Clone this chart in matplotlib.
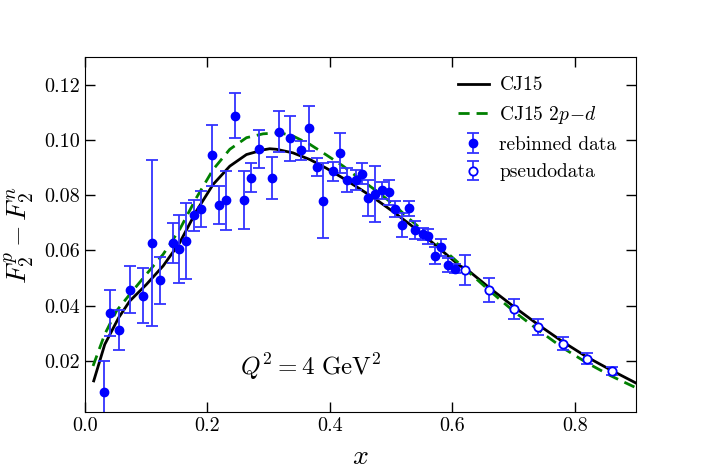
import numpy as np
import matplotlib
matplotlib.use('Agg')
import matplotlib.pyplot as plt

plt.rcParams['font.family'] = 'serif'
plt.rcParams['font.serif'] = ['cmr10']
plt.rcParams['mathtext.fontset'] = 'cm'
plt.rcParams['axes.formatter.use_mathtext'] = True

# rebinned data
x_data = [0.031, 0.041, 0.0555, 0.0746, 0.0953, 0.1094, 0.1225, 0.1443, 0.154, 0.165,
          0.178, 0.190, 0.2075, 0.219, 0.2314, 0.2445, 0.2597, 0.2717, 0.2848, 0.305,
          0.3174, 0.3349, 0.3534, 0.3654, 0.3785, 0.3893, 0.4046, 0.417, 0.4274, 0.442,
          0.4525, 0.4628, 0.4732, 0.4856, 0.496, 0.5069, 0.5178, 0.5292, 0.5395, 0.5516,
          0.5608, 0.5712, 0.5815, 0.5925, 0.6044]
y_data = [0.0089, 0.0374, 0.0312, 0.0458, 0.0436, 0.0628, 0.0492, 0.0627, 0.0605, 0.0634,
          0.0727, 0.0750, 0.0944, 0.0763, 0.0782, 0.1087, 0.0782, 0.0863, 0.0967, 0.0862,
          0.1030, 0.1006, 0.0962, 0.1042, 0.0902, 0.0780, 0.0886, 0.0953, 0.0856, 0.0854,
          0.0878, 0.0790, 0.0803, 0.0817, 0.0811, 0.0751, 0.0692, 0.0752, 0.0675, 0.0660,
          0.0651, 0.0581, 0.0611, 0.0548, 0.0534]
e_data = [0.0110, 0.0083, 0.0071, 0.0086, 0.0099, 0.0300, 0.0086, 0.0072, 0.0124, 0.0138,
          0.0056, 0.0066, 0.0109, 0.0069, 0.0107, 0.0081, 0.0105, 0.0052, 0.0068, 0.0076,
          0.0075, 0.0081, 0.0033, 0.0082, 0.0033, 0.0136, 0.0033, 0.0073, 0.0043, 0.0036,
          0.0039, 0.0066, 0.0101, 0.0030, 0.0045, 0.0029, 0.0045, 0.0028, 0.0033, 0.0023,
          0.0027, 0.0031, 0.0030, 0.0026, 0.0017]

# pseudodata
x_pseudo = [0.62, 0.66, 0.70, 0.74, 0.78, 0.82, 0.86]
y_pseudo = [0.0529, 0.0457, 0.0388, 0.0323, 0.0263, 0.0208, 0.0163]
e_pseudo = [0.0055, 0.0045, 0.0037, 0.0030, 0.0024, 0.0020, 0.0014]

# CJ15 curve
x_cj = [0.0147, 0.0327, 0.0555, 0.0735, 0.1007, 0.128, 0.155, 0.1824, 0.2096, 0.2368,
        0.264, 0.2913, 0.302, 0.313, 0.340, 0.3675, 0.3948, 0.422, 0.449, 0.4765,
        0.5036, 0.531, 0.5582, 0.5853, 0.6126, 0.6235, 0.6615, 0.7013, 0.741, 0.780,
        0.820, 0.859, 0.900]
y_cj = [0.0128, 0.0260, 0.0357, 0.0417, 0.0477, 0.0544, 0.0628, 0.0743, 0.0839, 0.0905,
        0.0947, 0.0964, 0.0968, 0.0966, 0.0953, 0.0929, 0.0897, 0.0861, 0.0823, 0.0783,
        0.0740, 0.0694, 0.0646, 0.0595, 0.0544, 0.0532, 0.0463, 0.0395, 0.0330, 0.0270,
        0.0214, 0.0167, 0.0120]

# CJ15 2p-d curve
x_2pd = [0.0136, 0.0327, 0.0518, 0.0735, 0.1007, 0.128, 0.155, 0.1824, 0.2096, 0.2368,
         0.264, 0.2913, 0.3185, 0.340, 0.3675, 0.3948, 0.422, 0.449, 0.4765, 0.5036,
         0.531, 0.5582, 0.5853, 0.6126, 0.6235, 0.6615, 0.7013, 0.741, 0.780, 0.820,
         0.859, 0.900]
y_2pd = [0.0182, 0.0297, 0.0381, 0.0441, 0.0514, 0.0586, 0.0676, 0.0791, 0.0893, 0.0966,
         0.1008, 0.1022, 0.1026, 0.1014, 0.0984, 0.0945, 0.0905, 0.0859, 0.0815, 0.0767,
         0.0712, 0.0660, 0.0604, 0.0550, 0.0528, 0.0453, 0.0378, 0.0311, 0.0248, 0.0193,
         0.0146, 0.0103]

fig = plt.figure(figsize=(7.06, 4.71), dpi=100)
ax = fig.add_axes([0.120, 0.125, 0.781, 0.754])

ax.plot(x_cj, y_cj, color='black', lw=2, label='CJ15')
ax.plot(x_2pd, y_2pd, color='green', lw=2, ls='--', dashes=(4, 2.5), label=r'CJ15 $2p\!-\!d$')
ax.errorbar(x_data, y_data, yerr=e_data, fmt='o', color='blue', ms=6,
            ecolor=(0.2, 0.2, 1.0), elinewidth=1.3, capsize=4, capthick=1.3,
            label='rebinned data')
ax.errorbar(x_pseudo, y_pseudo, yerr=e_pseudo, fmt='o', color='blue', mfc='white',
            mec='blue', mew=1.3, ms=6, ecolor=(0.2, 0.2, 1.0), elinewidth=1.3,
            capsize=4, capthick=1.3, label='pseudodata')

ax.set_xlim(0.0, 0.9)
ax.set_ylim(0.0015, 0.13)
ax.set_xticks([0.0, 0.2, 0.4, 0.6, 0.8])
ax.set_yticks([0.02, 0.04, 0.06, 0.08, 0.10, 0.12])
ax.set_xticklabels(['0.0', '0.2', '0.4', '0.6', '0.8'])
ax.set_yticklabels(['0.02', '0.04', '0.06', '0.08', '0.10', '0.12'])
ax.tick_params(direction='in', top=True, right=True, labelsize=14.5, length=7, width=1)

ax.set_xlabel(r'$x$', fontsize=20, labelpad=6)
ax.set_ylabel(r'$F_2^p-F_2^n$', fontsize=20, labelpad=5)

ax.text(0.253, 0.0178, r'$Q^2=4\ \mathrm{GeV}^2$', fontsize=18, ha='left', va='center')

ax.legend(loc='upper right', frameon=False, fontsize=14, handlelength=1.6,
          handletextpad=0.55, labelspacing=0.5, borderaxespad=0.6)

plt.savefig('out.png', dpi=100)
